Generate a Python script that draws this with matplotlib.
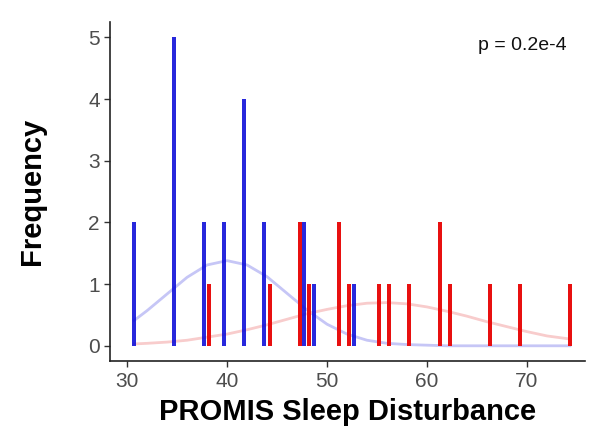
import matplotlib
matplotlib.use("Agg")
import matplotlib.pyplot as plt

plt.rcParams['font.family'] = ['Liberation Sans', 'DejaVu Sans']

# bar positions (score) and counts for the two groups
blue_x = [30.7, 34.7, 37.7, 39.7, 41.7, 43.7, 47.7, 48.7, 52.7]
blue_n = [2, 5, 2, 2, 4, 2, 2, 1, 1]
red_x = [38.2, 44.3, 47.3, 48.2, 51.2, 52.2, 55.2, 56.2, 58.2, 61.3, 62.3, 66.3, 69.3, 74.3]
red_n = [1, 1, 2, 1, 2, 1, 1, 1, 1, 2, 1, 1, 1, 1]

# fitted curves
curve_x = [30.7, 32, 34, 36, 38, 40, 42, 44, 46, 48, 50, 52, 54, 56, 58, 60,
           62, 64, 66, 68, 70, 72, 74.3]
blue_curve = [0.41, 0.57, 0.84, 1.11, 1.31, 1.38, 1.31, 1.12, 0.85, 0.58, 0.35,
              0.19, 0.09, 0.04, 0.02, 0.01, 0.0, 0.0, 0.0, 0.0, 0.0, 0.0, 0.0]
red_curve = [0.03, 0.04, 0.06, 0.09, 0.14, 0.19, 0.26, 0.34, 0.43, 0.52, 0.59,
             0.65, 0.69, 0.70, 0.68, 0.63, 0.56, 0.48, 0.39, 0.31, 0.23, 0.16, 0.11]

fig = plt.figure(figsize=(5.92, 4.29), dpi=100)
ax = fig.add_axes([0.186, 0.158, 0.802, 0.791])

ax.plot(curve_x, blue_curve, color='#c6c6f6', lw=2.0, zorder=1)
ax.plot(curve_x, red_curve, color='#f8cccc', lw=2.0, zorder=1)

ax.bar(red_x, red_n, width=0.48, color='#e81010', zorder=2)
ax.bar(blue_x, blue_n, width=0.48, color='#0a0ad8', alpha=0.88, zorder=3)

ax.set_xlim(28.3, 75.8)
ax.set_ylim(-0.25, 5.25)
ax.set_xticks([30, 40, 50, 60, 70])
ax.set_yticks([0, 1, 2, 3, 4, 5])

for s in ['top', 'right']:
    ax.spines[s].set_visible(False)
for s in ['left', 'bottom']:
    ax.spines[s].set_linewidth(1.2)
    ax.spines[s].set_color('#222222')

ax.tick_params(axis='both', labelsize=15, labelcolor='#4d4d4d', color='#333333',
               length=4, width=1)

ax.set_xlabel('PROMIS Sleep Disturbance', fontsize=21, fontweight='bold', labelpad=5)
ax.set_ylabel('Frequency', fontsize=21, fontweight='bold', labelpad=30)

ax.text(0.868, 0.93, 'p = 0.2e-4', transform=ax.transAxes, fontsize=14,
        ha='center', va='center', color='#111111')

fig.savefig('out.png', dpi=100, facecolor='white')
